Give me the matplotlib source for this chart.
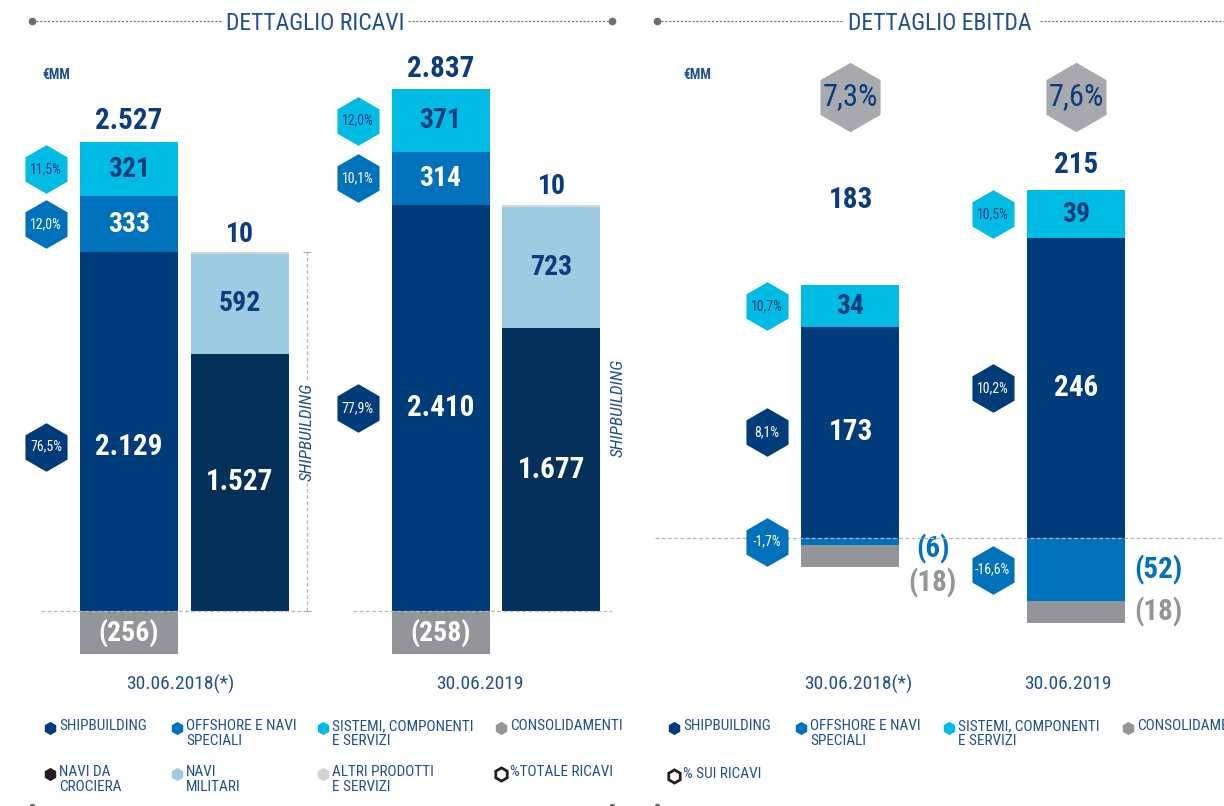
import matplotlib.pyplot as plt
import numpy as np
from matplotlib import font_manager

# pick a narrow face if one is installed
available = {f.name for f in font_manager.fontManager.ttflist}
FONT = 'DejaVu Sans'
for cand in ['Liberation Sans Narrow', 'Roboto Condensed', 'DejaVu Sans Condensed', 'Liberation Sans']:
    if cand in available:
        FONT = cand
        break
plt.rcParams['font.family'] = [FONT, 'DejaVu Sans']

periods = ['30.06.2018(*)', '30.06.2019']

# ricavi (€MM)
rev_shipbuilding = [2129, 2410]
rev_offshore = [333, 314]
rev_sistemi = [321, 371]
rev_consolidamenti = [-256, -258]
rev_pct_shipbuilding = [76.5, 77.9]
rev_pct_offshore = [12.0, 10.1]
rev_pct_sistemi = [11.5, 12.0]

# dettaglio shipbuilding
ship_crociera = [1527, 1677]
ship_militari = [592, 723]
ship_altri = [10, 10]

# ebitda (€MM)
ebitda_shipbuilding = [173, 246]
ebitda_offshore = [-6, -52]
ebitda_sistemi = [34, 39]
ebitda_consolidamenti = [-18, -18]
ebitda_margin = [7.3, 7.6]
ebitda_pct_shipbuilding = [8.1, 10.2]
ebitda_pct_offshore = [-1.7, -16.6]
ebitda_pct_sistemi = [10.7, 10.5]

C_SHIP = '#003B7A'
C_OFF = '#0072BC'
C_SIS = '#00BCE4'
C_CONS = '#939598'
C_CRO = '#04305A'
C_MIL = '#9DCBE2'
C_ALT = '#D1D3D4'
C_TXT = '#0B3C7D'
C_LEG = '#21508F'
C_HEXGREY = '#A7A9AC'
C_DASH = '#B3B5B8'


def num(v):
    s = f"{abs(v):,}".replace(',', '.')
    return f"({s})" if v < 0 else s


def pct(v):
    return f"{v:.1f}%".replace('.', ',')


def hexlabel(ax, x, y, text, face, tcolor, ms=35, fs=10):
    ax.plot([x], [y], marker='h', ms=ms, mfc=face, mec='none', ls='none',
            clip_on=False, zorder=5)
    ax.text(x, y, text, ha='center', va='center', color=tcolor, fontsize=fs,
            zorder=6)


fig = plt.figure(figsize=(12.24, 8.06), dpi=100)

# decoration layer in pixel units
bg = fig.add_axes([0, 0, 1, 1])
bg.set_xlim(0, 1224)
bg.set_ylim(806, 0)
bg.axis('off')

ax1 = fig.add_axes([0, 0, 0.5, 1])
ax2 = fig.add_axes([0.5, 0, 0.5, 1])
for ax in (ax1, ax2):
    ax.axis('off')

# ---------------- DETTAGLIO RICAVI ----------------
ax1.set_ylim((611 - 806) / 0.1685, 611 / 0.1685)
ax1.set_xlim(-0.5923, 1.3724)
g = np.arange(len(periods))
off, w = 0.178, 0.3146
xa, xb = g - off, g + off

low = np.array(rev_shipbuilding)
mid = low + np.array(rev_offshore)
ax1.bar(xa, rev_shipbuilding, w, color=C_SHIP, lw=0)
ax1.bar(xa, rev_offshore, w, bottom=low, color=C_OFF, lw=0)
ax1.bar(xa, rev_sistemi, w, bottom=mid, color=C_SIS, lw=0)
ax1.bar(xa, rev_consolidamenti, w, color=C_CONS, lw=0)

cro = np.array(ship_crociera)
mil = cro + np.array(ship_militari)
ax1.bar(xb, ship_crociera, w, color=C_CRO, lw=0)
ax1.bar(xb, ship_militari, w, bottom=cro, color=C_MIL, lw=0)
ax1.bar(xb, ship_altri, w, bottom=mil, color=C_ALT, lw=0)

rev_tot = low + np.array(rev_offshore) + np.array(rev_sistemi) + np.array(rev_consolidamenti)
ship_tot = mil + np.array(ship_altri)
top = mid + np.array(rev_sistemi)

for i in range(len(periods)):
    # the 2018 shipbuilding figure sits a bit below the middle of its block
    ship_y = rev_shipbuilding[i] / 2 - (90 if i == 0 else 0)
    ax1.text(xa[i], ship_y, num(rev_shipbuilding[i]), ha='center', va='center',
             color='white', fontsize=21, fontweight='bold')
    ax1.text(xa[i], low[i] + rev_offshore[i] / 2, num(rev_offshore[i]), ha='center', va='center',
             color='white', fontsize=20, fontweight='bold')
    ax1.text(xa[i], mid[i] + rev_sistemi[i] / 2, num(rev_sistemi[i]), ha='center', va='center',
             color=C_TXT, fontsize=20, fontweight='bold')
    ax1.text(xa[i], rev_consolidamenti[i] / 2, num(rev_consolidamenti[i]), ha='center', va='center',
             color='white', fontsize=20, fontweight='bold')
    ax1.annotate(num(int(rev_tot[i])), (xa[i], top[i]), xytext=(0, 15), textcoords='offset points',
                 ha='center', va='center', color=C_TXT, fontsize=21, fontweight='bold')

    ax1.text(xb[i], ship_crociera[i] / 2, num(ship_crociera[i]), ha='center', va='center',
             color='white', fontsize=21, fontweight='bold')
    ax1.text(xb[i], cro[i] + ship_militari[i] / 2, num(ship_militari[i]), ha='center', va='center',
             color=C_TXT, fontsize=20, fontweight='bold')
    ax1.annotate(num(ship_altri[i]), (xb[i], ship_tot[i]), xytext=(0, 13), textcoords='offset points',
                 ha='center', va='center', color=C_TXT, fontsize=20, fontweight='bold')

    hx = xa[i] - 0.2665
    hexlabel(ax1, hx, mid[i] + rev_sistemi[i] / 2, pct(rev_pct_sistemi[i]), C_SIS, C_TXT)
    hexlabel(ax1, hx, low[i] + rev_offshore[i] / 2, pct(rev_pct_offshore[i]), C_OFF, 'white')
    hexlabel(ax1, hx, ship_y, pct(rev_pct_shipbuilding[i]), C_SHIP, 'white')

    # shipbuilding bracket
    vx = g[i] + 0.393
    ax1.plot([vx, vx], [0, ship_tot[i]], color=C_DASH, lw=0.9, ls=(0, (3, 2)))
    ax1.plot([vx, vx], [0, ship_tot[i]], ls='none', marker='_', ms=6, color=C_DASH, mew=0.9)
    ax1.text(vx, ship_tot[i] * 0.5, 'SHIPBUILDING', rotation=90, ha='center', va='center',
             style='italic', color=C_LEG, fontsize=12.5,
             bbox=dict(fc='white', ec='none', pad=1.5))

    # baseline
    ax1.plot([g[i] - 0.46, g[i] + 0.405], [0, 0], color=C_DASH, lw=0.9, ls=(0, (3, 2)), zorder=4)

# ---------------- DETTAGLIO EBITDA ----------------
ax2.set_ylim((538 - 806) / 1.22, 538 / 1.22)
ax2.set_xlim(-1.0576, 1.6563)
we = 0.4346
es = np.array(ebitda_shipbuilding)
eo = np.array(ebitda_offshore)
ax2.bar(g, ebitda_shipbuilding, we, color=C_SHIP, lw=0)
ax2.bar(g, ebitda_sistemi, we, bottom=es, color=C_SIS, lw=0)
ax2.bar(g, ebitda_offshore, we, color=C_OFF, lw=0)
ax2.bar(g, ebitda_consolidamenti, we, bottom=eo, color=C_CONS, lw=0)
ax2.plot([-0.867, 1.6563], [0, 0], color=C_DASH, lw=0.9, ls=(0, (3, 2)), zorder=4)

ebitda_tot = es + np.array(ebitda_sistemi) + eo + np.array(ebitda_consolidamenti)
total_label_px = [200, 165]
for i in range(len(periods)):
    ax2.text(g[i], es[i] / 2, num(ebitda_shipbuilding[i]), ha='center', va='center',
             color='white', fontsize=21, fontweight='bold')
    ax2.text(g[i], es[i] + ebitda_sistemi[i] / 2, num(ebitda_sistemi[i]), ha='center', va='center',
             color=C_TXT, fontsize=20, fontweight='bold')
    ax2.text(g[i], (538 - total_label_px[i]) / 1.22, num(int(ebitda_tot[i])), ha='center',
             va='center', color=C_TXT, fontsize=21, fontweight='bold')

    # negative values at the side
    lx = g[i] + 0.365
    y_off = min(eo[i] / 2, -9)
    y_con = min(eo[i] + ebitda_consolidamenti[i] / 2, y_off - 28)
    ax2.text(lx, y_off, num(ebitda_offshore[i]), ha='center', va='center', color=C_OFF,
             fontsize=21, fontweight='bold')
    ax2.text(lx, y_con, num(ebitda_consolidamenti[i]), ha='center', va='center', color=C_CONS,
             fontsize=21, fontweight='bold')

    hx = g[i] - 0.37
    hexlabel(ax2, hx, es[i] + ebitda_sistemi[i] / 2, pct(ebitda_pct_sistemi[i]), C_SIS, C_TXT)
    hexlabel(ax2, hx, es[i] / 2, pct(ebitda_pct_shipbuilding[i]), C_SHIP, 'white')
    hexlabel(ax2, hx, eo[i] / 2, pct(ebitda_pct_offshore[i]), C_OFF, 'white')

    # margin badge
    hexlabel(ax2, g[i], (538 - 97) / 1.22, pct(ebitda_margin[i]), C_HEXGREY, C_TXT, ms=50, fs=22)

# ---------------- headers ----------------
dot = dict(ls='none', marker='o', ms=4.5, color='#6D6E71')
line = dict(color='#6D6E71', lw=0.8, ls=(0, (2, 1.5)))
bg.plot([32, 222], [21, 21], **line)
bg.plot([408, 612], [21, 21], **line)
bg.plot([32, 612], [21, 21], **dot)
bg.text(315, 23, 'DETTAGLIO RICAVI', ha='center', va='center', color=C_LEG, fontsize=17)
bg.plot([657, 843], [21, 21], **line)
bg.plot([1040, 1224], [21, 21], **line)
bg.plot([657], [21], **dot)
bg.text(940, 23, 'DETTAGLIO EBITDA', ha='center', va='center', color=C_LEG, fontsize=17)
bg.plot([32, 612, 657], [806, 806, 806], ls='none', marker='o', ms=3, color='#6D6E71', clip_on=False)

bg.text(42, 75, '€MM', ha='left', va='center', color=C_LEG, fontsize=10, fontweight='bold')
bg.text(683, 75, '€MM', ha='left', va='center', color=C_LEG, fontsize=10, fontweight='bold')

for xc, lab in zip([180, 480, 858, 1068], periods + periods):
    bg.text(xc, 684, lab, ha='center', va='center', color=C_LEG, fontsize=14)

# ---------------- legends ----------------
rev_legend = [
    (50, 728, C_SHIP, 'SHIPBUILDING'),
    (177, 728, C_OFF, 'OFFSHORE E NAVI\nSPECIALI'),
    (323, 728, C_SIS, 'SISTEMI, COMPONENTI\nE SERVIZI'),
    (501, 728, C_CONS, 'CONSOLIDAMENTI'),
    (50, 774, '#231F20', 'NAVI DA\nCROCIERA'),
    (177, 774, C_MIL, 'NAVI\nMILITARI'),
    (323, 774, C_ALT, 'ALTRI PRODOTTI\nE SERVIZI'),
    (501, 774, None, '%TOTALE RICAVI'),
]
ebitda_legend = [
    (674, 728, C_SHIP, 'SHIPBUILDING'),
    (801, 728, C_OFF, 'OFFSHORE E NAVI\nSPECIALI'),
    (949, 728, C_SIS, 'SISTEMI, COMPONENTI\nE SERVIZI'),
    (1128, 728, C_CONS, 'CONSOLIDAMENTI'),
    (674, 776, None, '% SUI RICAVI'),
]
for mx, my, col, lab in rev_legend + ebitda_legend:
    if col is None:
        bg.plot([mx], [my], marker='h', ms=9.5, mfc='white', mec='#231F20', mew=2, ls='none')
    else:
        bg.plot([mx], [my], marker='h', ms=9.5, mfc=col, mec='none', ls='none')
    bg.text(mx + 9, my - 9, lab, ha='left', va='top', color=C_LEG, fontsize=11,
            linespacing=1.05, clip_on=True)

fig.savefig('out.png', dpi=100)
